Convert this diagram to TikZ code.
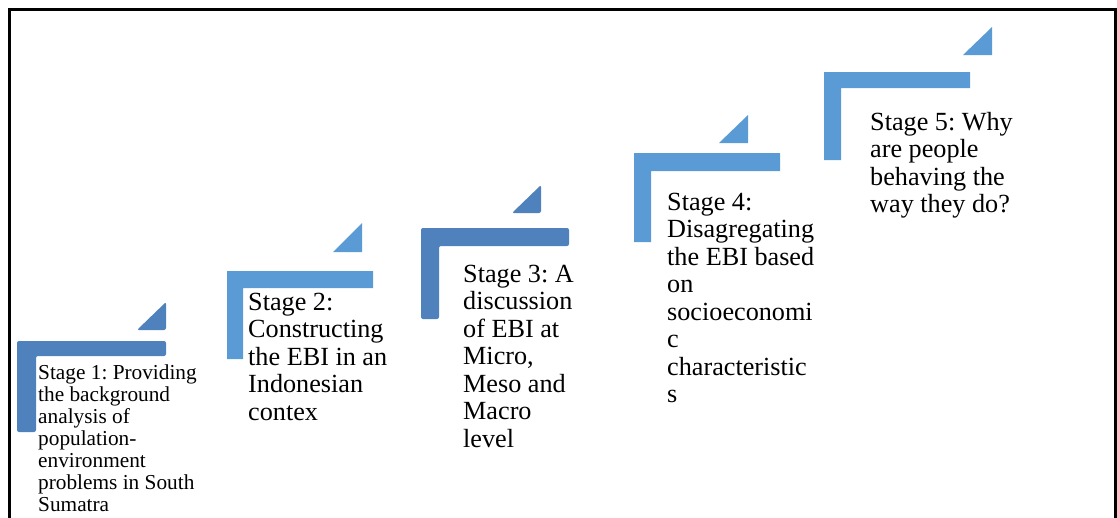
\documentclass[tikz,border=0pt]{standalone}
\usepackage{fontspec}
\setmainfont{Liberation Serif}
\frenchspacing
\definecolor{stepdark}{RGB}{79,129,189}
\definecolor{steplight}{RGB}{91,155,213}
\begin{document}
\begin{tikzpicture}[x=1pt,y=-1pt,
  darkshape/.style={fill=stepdark, rounded corners=2pt},
  lightshape/.style={fill=steplight},
  bigtext/.style={anchor=north west, inner sep=0pt, align=left,
    font=\fontsize{26.2}{27.5}\selectfont},
  smalltext/.style={anchor=north west, inner sep=0pt, align=left,
    font=\fontsize{21.3}{22}\selectfont}]
\useasboundingbox (0,0) rectangle (1117,517);
% open frame (no bottom edge)
\draw[line width=3pt] (9.5,530) -- (9.5,9.5) -- (1115,9.5) -- (1115,530);

% Stage 1
\fill[darkshape] (17,341) -- (166,341) -- (166,356) -- (36,356) -- (36,432) -- (17,432) -- cycle;
\fill[darkshape] (137,330) -- (166,330) -- (166,302) -- cycle;
\node[smalltext] (s1) at (38,379-17) {\rule{0pt}{17pt}Stage 1: Providing\\the background\\analysis of\\population-\\environment\\problems in South\\Sumatra};

% Stage 2
\fill[lightshape] (227,271) -- (373,271) -- (373,288) -- (243,288) -- (243,359) -- (227,359) -- cycle;
\fill[lightshape] (333,252) -- (362,252) -- (362,223) -- cycle;
\node[bigtext] (s2) at (248,310-21) {\rule{0pt}{21pt}Stage 2:\\Constructing\\the EBI in an\\Indonesian\\contex};

% Stage 3
\fill[darkshape] (421,228) -- (569,228) -- (569,246) -- (439,246) -- (439,319) -- (421,319) -- cycle;
\fill[darkshape] (512,213) -- (541,213) -- (541,185) -- cycle;
\node[bigtext] (s3) at (463,282-21) {\rule{0pt}{21pt}Stage 3: A\\discussion\\of EBI at\\Micro,\\Meso and\\Macro\\level};

% Stage 4
\fill[lightshape] (634,153) -- (780,153) -- (780,171) -- (651,171) -- (651,242) -- (634,242) -- cycle;
\fill[lightshape] (719,143) -- (748,143) -- (748,115) -- cycle;
\node[bigtext] (s4) at (667,210-21) {\rule{0pt}{21pt}Stage 4:\\Disagregating\\the EBI based\\on\\socioeconomi\\c\\characteristic\\s};

% Stage 5
\fill[lightshape] (824,72) -- (970,72) -- (970,88) -- (841,88) -- (841,160) -- (824,160) -- cycle;
\fill[lightshape] (963,55) -- (992,55) -- (992,27) -- cycle;
\node[bigtext] (s5) at (870,130-21) {\rule{0pt}{21pt}Stage 5: Why\\are people\\behaving the\\way they do?};
\end{tikzpicture}
\end{document}
